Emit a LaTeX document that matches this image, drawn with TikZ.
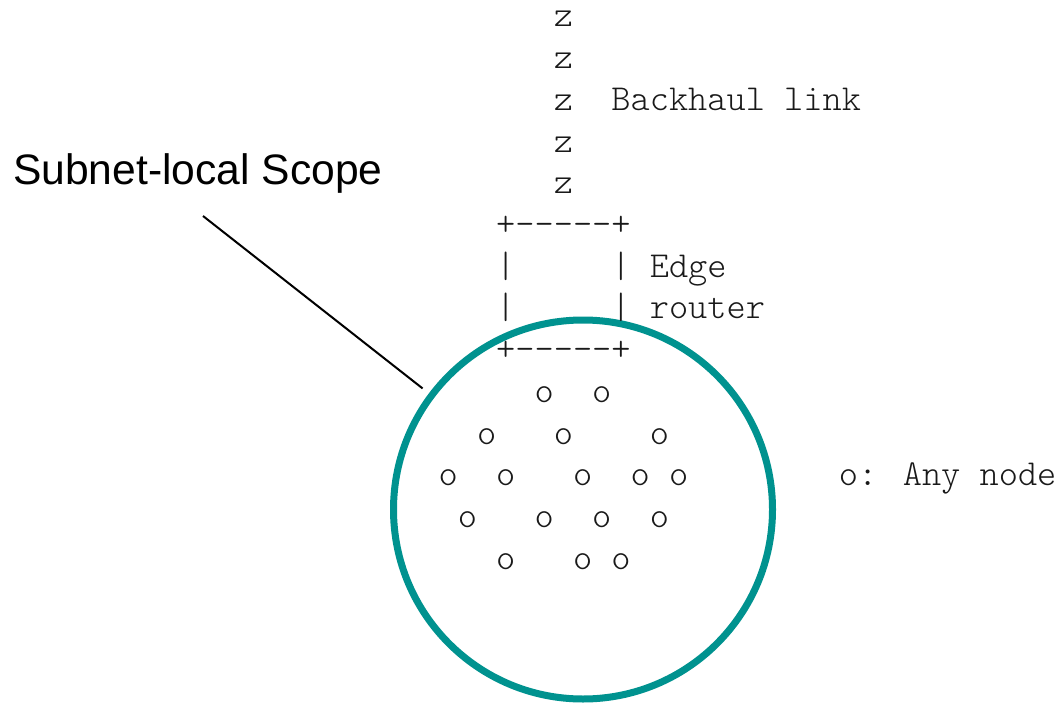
\documentclass[tikz,border=0pt]{standalone}
\usepackage{fontspec}
\setmainfont{Liberation Sans}
\newfontfamily\asciimono{Latin Modern Mono Light}
\definecolor{scopeteal}{RGB}{0,146,143}
\tikzset{
  ascii/.style={anchor=base west, inner sep=0pt, outer sep=0pt, text=black!90,
    font=\asciimono\fontsize{36.57}{44}\selectfont},
  title/.style={anchor=base west, inner sep=0pt, text=black,
    font=\fontsize{42.6}{50}\selectfont},
  scopering/.style={circle, draw=scopeteal, line width=7pt, minimum size=379pt, inner sep=0pt},
  leaderline/.style={draw=black, line width=2pt}
}
\begin{document}
\begin{tikzpicture}[x=1pt,y=-1pt]
\useasboundingbox (0,0) rectangle (1056,703);
% subnet circle
\node[scopering] (scope) at (583,509.5) {};
% title and leader
\node[title] (scopelabel) at (13,185) {Subnet-local Scope};
\coordinate (leader) at (203,216);
\draw[leaderline, shorten >=8pt] (leader) -- (scope.143.7);
% backhaul link
\foreach \r [count=\i] in {0,1,2,3,4}
  \node[ascii] (z\i) at ({438.6+19.2*6},{27+41.7*\r}) {z};
\node[ascii] (backhaul) at ({438.6+19.2*9},{27+41.7*2}) {Backhaul link};
% edge router box
\node[ascii] (boxtop) at ({438.6+19.2*3},{27+41.7*5}) {+-----+};
\node[ascii] (lbar1) at ({438.6+19.2*3},{27+41.7*6}) {|};
\node[ascii] (rbar1) at ({438.6+19.2*9},{27+41.7*6}) {|};
\node[ascii] (edge) at ({438.6+19.2*11},{27+41.7*6}) {Edge};
\node[ascii] (lbar2) at ({438.6+19.2*3},{27+41.7*7}) {|};
\node[ascii] (rbar2) at ({438.6+19.2*9},{27+41.7*7}) {|};
\node[ascii] (router) at ({438.6+19.2*11},{27+41.7*7}) {router};
\node[ascii] (boxbot) at ({438.6+19.2*3},{27+41.7*8}) {+-----+};
% nodes
\foreach \r/\c [count=\i] in {9/5,9/8,10/2,10/6,10/11,11/0,11/3,11/7,11/10,11/12,12/1,12/5,12/8,12/11,13/3,13/7,13/9}
  \node[ascii] (o\i) at ({438.6+19.2*\c},{27+41.7*\r}) {o};
\node[ascii] (legend) at ({435.6+19.2*21},{27+41.7*11}) {o: Any node};
\end{tikzpicture}
\end{document}
